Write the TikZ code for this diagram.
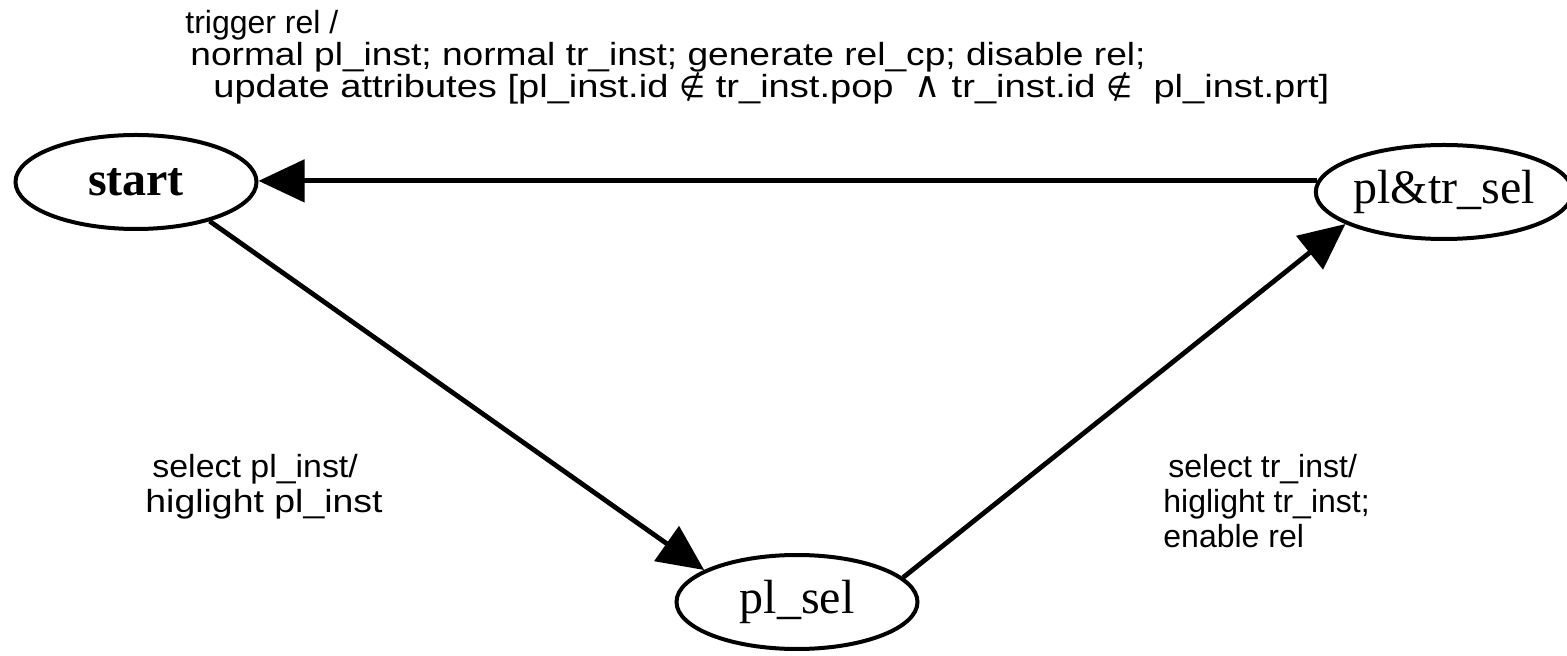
\documentclass[tikz,border=0pt]{standalone}
\usepackage{fontspec}
\setmainfont{Liberation Serif}
\setsansfont{Liberation Sans}
\newfontfamily\symfont{DejaVu Sans}
\usetikzlibrary{arrows.meta,shapes.geometric}
\newcommand{\nin}{{\symfont\fontsize{15}{15}\selectfont ∉}}
\newcommand{\andsym}{{\symfont\fontsize{18}{18}\selectfont ∧}}
\begin{document}
\begin{tikzpicture}[x=0.5pt,y=-0.5pt,
  state/.style={draw, ellipse, line width=2pt, minimum width=120.5pt, minimum height=47pt, inner sep=0pt, font=\fontsize{24}{24}\selectfont},
  lbl/.style={font=\sffamily\fontsize{16}{17.5}\selectfont, inner sep=0pt, anchor=base west},
  wide/.style={font=\sffamily\fontsize{16}{17.5}\selectfont\addfontfeature{FakeStretch=#1}},
  trans/.style={line width=2.4pt, -{Triangle[length=23pt,width=21pt]}}]
\useasboundingbox (0,0) rectangle (1567,656);
\node[state] (start) at (136,182) {\textbf{start}};
\node[state] (ptr) at (1444,192) {pl\&tr\_sel};
\node[state] (plsel) at (797,602) {pl\_sel};

\draw[trans] (ptr.175) -- (ptr.175 -| start.east);
\draw[trans] (start.-28) -- (plsel.161);
\draw[trans] (plsel.13) -- (ptr.198);

\node[lbl] (t1) at (185,34) {trigger rel /};
\node[lbl, wide=1.16] (t2) at (190,66) {normal pl\_inst; normal tr\_inst; generate rel\_cp; disable rel;};
\node[lbl, wide=1.19] (t3) at (213,98) {update attributes [pl\_inst.id \nin\ tr\_inst.pop\ \ \andsym\ tr\_inst.id \nin\ \ pl\_inst.prt]};

\node[lbl, wide=1.06] (a1) at (152,478) {select pl\_inst/};
\node[lbl, wide=1.17] (a2) at (145,513) {higlight pl\_inst};

\node[lbl] (b1) at (1168,478) {select tr\_inst/};
\node[lbl] (b2) at (1163,513) {higlight tr\_inst;};
\node[lbl] (b3) at (1163,548) {enable rel};
\end{tikzpicture}
\end{document}
